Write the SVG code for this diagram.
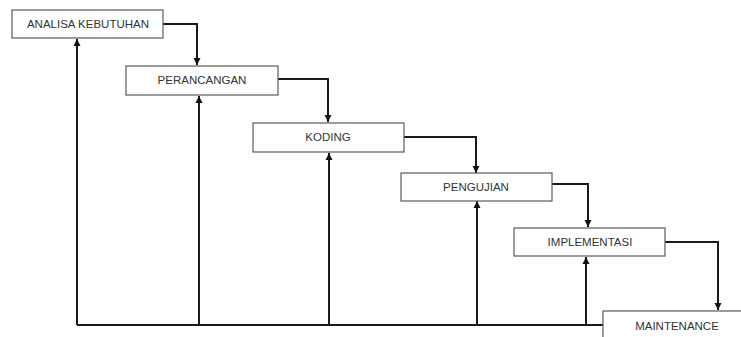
<svg xmlns="http://www.w3.org/2000/svg" width="741" height="337" viewBox="0 0 741 337">
<style>
.box{fill:#fff;stroke:#5a5a5a;stroke-width:1.2}
.lbl{font-family:"Liberation Sans",Arial,sans-serif;font-size:11.5px;fill:#333;text-anchor:middle}
.ln{fill:none;stroke:#1a1a1a;stroke-width:2}
</style>
<defs>
<marker id="ah" markerWidth="8" markerHeight="8" refX="7" refY="4" orient="auto" markerUnits="userSpaceOnUse">
<path d="M0,0.5 L7,4 L0,7.5 Z" fill="#111"/>
</marker>
</defs>
<rect width="741" height="337" fill="#fff"/>
<g id="connectors">
<path class="ln" d="M163,24 H197 V65" marker-end="url(#ah)"/>
<path class="ln" d="M278,79 H328 V122" marker-end="url(#ah)"/>
<path class="ln" d="M404,137 H476 V173" marker-end="url(#ah)"/>
<path class="ln" d="M552,184 H588 V227" marker-end="url(#ah)"/>
<path class="ln" d="M665,242 H718 V310" marker-end="url(#ah)"/>
<path class="ln" d="M77,325 H603"/>
<path class="ln" d="M77,325 V39" marker-end="url(#ah)"/>
<path class="ln" d="M199,325 V96" marker-end="url(#ah)"/>
<path class="ln" d="M329,325 V153" marker-end="url(#ah)"/>
<path class="ln" d="M477,325 V201" marker-end="url(#ah)"/>
<path class="ln" d="M586,325 V257" marker-end="url(#ah)"/>
</g>
<g id="analisa">
<rect class="box" x="12" y="10" width="151" height="28"/>
<text class="lbl" x="88" y="28">ANALISA KEBUTUHAN</text>
</g>
<g id="perancangan">
<rect class="box" x="126" y="66" width="152" height="29"/>
<text class="lbl" x="202" y="84">PERANCANGAN</text>
</g>
<g id="koding">
<rect class="box" x="253" y="123" width="151" height="29"/>
<text class="lbl" x="328" y="141">KODING</text>
</g>
<g id="pengujian">
<rect class="box" x="401" y="173" width="151" height="28"/>
<text class="lbl" x="476" y="191">PENGUJIAN</text>
</g>
<g id="implementasi">
<rect class="box" x="514" y="228" width="151" height="28"/>
<text class="lbl" x="590" y="246">IMPLEMENTASI</text>
</g>
<g id="maintenance">
<rect class="box" x="603" y="311" width="150" height="40"/>
<text class="lbl" x="677" y="330">MAINTENANCE</text>
</g>
</svg>
